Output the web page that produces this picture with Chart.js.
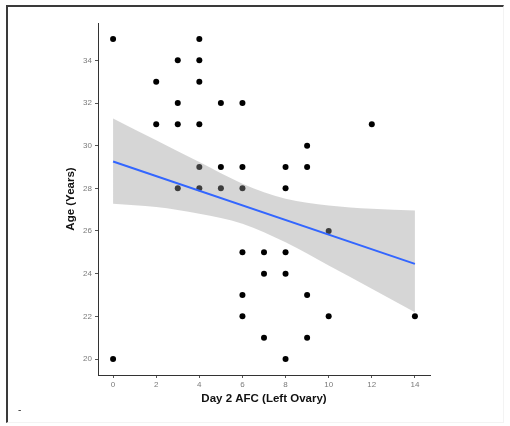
<!DOCTYPE html>
<html>
<head>
<meta charset="utf-8">
<script src="https://cdn.jsdelivr.net/npm/chart.js@4/dist/chart.umd.min.js"></script>
<style>
  html, body { margin: 0; padding: 0; background: #ffffff; }
  #wrap { position: relative; width: 510px; height: 426px; overflow: hidden; }
  #frame {
    position: absolute; left: 6px; top: 5px; width: 495px; height: 415px;
    border-left: 2px solid #3a3a3a; border-top: 2px solid #3a3a3a;
    border-right: 1px solid #f3f3f3; border-bottom: 1px solid #f3f3f3;
    pointer-events: none;
  }
  #dash {
    position: absolute; left: 18px; top: 404px;
    font: 10px "Liberation Sans", Arial, sans-serif; color: #333;
  }
  canvas { position: absolute; left: 0; top: 0; }
</style>
</head>
<body>
<div id="wrap">
  <canvas id="c" width="510" height="426"></canvas>
  <div id="frame"></div>
  <div id="dash">-</div>
</div>
<script>
// Day 2 antral follicle count (left ovary) against age
const afcLeft = [0, 0, 2, 2, 3, 3, 3, 3, 4, 4, 4, 4, 4, 4, 5, 5, 5,
                 6, 6, 6, 6, 6, 6, 7, 7, 7, 8, 8, 8, 8, 8, 9, 9, 9, 9, 10, 10, 12, 14];
const ageYears = [35, 20, 33, 31, 34, 32, 31, 28, 35, 34, 33, 31, 29, 28, 32, 29, 28,
                  32, 29, 28, 25, 23, 22, 25, 24, 21, 29, 28, 25, 24, 20, 30, 29, 23, 21, 26, 22, 31, 22];

// Linear fit and its 95% confidence band
const fitX = [0, 14];
const fitY = [29.26, 24.46];
const bandX = [0, 2, 4, 6, 8, 10, 12, 14];
const bandUpper = [31.27, 30.25, 29.23, 28.22, 27.51, 27.20, 27.04, 26.96];
const bandLower = [27.28, 27.12, 26.81, 26.34, 25.47, 24.38, 23.29, 22.19];

// Axis ticks
const xTicks = [0, 2, 4, 6, 8, 10, 12, 14];
const yTicks = [20, 22, 24, 26, 28, 30, 32, 34];

const pts = (xs, ys) => xs.map((x, i) => ({ x: x, y: ys[i] }));

const tickFont = { family: '"Liberation Sans", Arial, sans-serif', size: 8 };
const titleFont = { family: '"Liberation Sans", Arial, sans-serif', size: 11.5, weight: 'bold' };

new Chart(document.getElementById('c'), {
  type: 'scatter',
  data: {
    datasets: [
      {
        data: pts(afcLeft, ageYears),
        backgroundColor: '#000000',
        borderWidth: 0,
        pointRadius: 3,
        order: 3
      },
      {
        data: pts(bandX, bandLower),
        showLine: true,
        borderWidth: 0,
        pointRadius: 0,
        fill: false,
        cubicInterpolationMode: 'monotone',
        order: 2
      },
      {
        data: pts(bandX, bandUpper),
        showLine: true,
        borderWidth: 0,
        pointRadius: 0,
        backgroundColor: 'rgba(153,153,153,0.4)',
        fill: 1,
        cubicInterpolationMode: 'monotone',
        order: 2
      },
      {
        data: pts(fitX, fitY),
        showLine: true,
        borderColor: '#3366ff',
        borderWidth: 2,
        pointRadius: 0,
        order: 0
      }
    ]
  },
  options: {
    responsive: false,
    animation: false,
    events: [],
    layout: { padding: { left: 0, right: 80, top: 23, bottom: 0 } },
    plugins: { legend: { display: false }, tooltip: { enabled: false } },
    scales: {
      x: {
        type: 'linear',
        min: -0.7,
        max: 14.7,
        afterBuildTicks: s => { s.ticks = xTicks.map(v => ({ value: v })); },
        afterFit: s => { s.height = 51; },
        grid: { display: true, drawOnChartArea: false, drawTicks: true, tickLength: 3, color: '#555555' },
        border: { display: true, color: '#333333', width: 1 },
        ticks: { color: '#7a7a7a', font: tickFont, padding: 2, maxRotation: 0 },
        title: { display: true, text: 'Day 2 AFC (Left Ovary)', color: '#111111', font: titleFont,
                 padding: { top: 0, bottom: 20 } }
      },
      y: {
        type: 'linear',
        min: 19.25,
        max: 35.75,
        afterBuildTicks: s => { s.ticks = yTicks.map(v => ({ value: v })); },
        afterFit: s => { s.width = 98; },
        grid: { display: true, drawOnChartArea: false, drawTicks: true, tickLength: 3, color: '#555555' },
        border: { display: true, color: '#333333', width: 1 },
        ticks: { color: '#7a7a7a', font: tickFont, padding: 3 },
        title: { display: true, text: 'Age (Years)', color: '#111111', font: titleFont,
                 padding: { top: 64, bottom: 0 } }
      }
    }
  }
});
</script>
</body>
</html>
